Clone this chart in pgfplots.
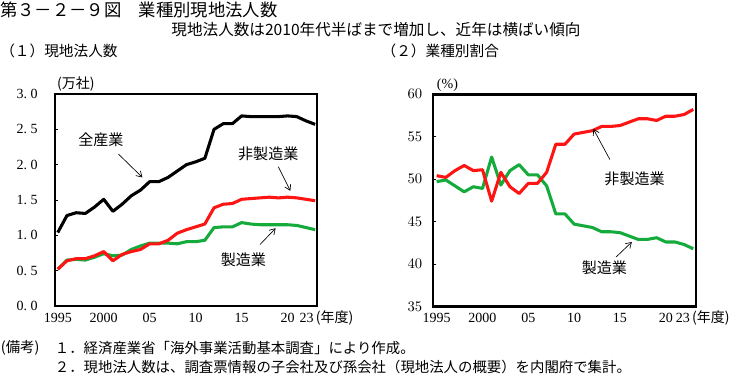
\documentclass[border=0pt]{standalone}
\usepackage{fontspec}
\setmainfont{Liberation Serif}
\newfontfamily\jp{Noto Sans CJK JP}
\usepackage{pgfplots}
\pgfplotsset{compat=1.18}
\usepackage{pgfplotstable}
\usetikzlibrary{arrows.meta}
\definecolor{myred}{RGB}{255,20,20}
\definecolor{mygreen}{RGB}{20,170,60}

\pgfplotstableread{
year total non mfg
1995 1.04 0.52 0.52
1996 1.28 0.64 0.65
1997 1.32 0.67 0.66
1998 1.31 0.67 0.65
1999 1.40 0.71 0.69
2000 1.51 0.77 0.74
2001 1.34 0.64 0.71
2002 1.44 0.73 0.72
2003 1.56 0.77 0.80
2004 1.64 0.80 0.85
2005 1.76 0.88 0.89
2006 1.76 0.88 0.89
2007 1.82 0.93 0.89
2008 1.91 1.03 0.88
2009 2.00 1.08 0.91
2010 2.04 1.12 0.91
2011 2.09 1.16 0.93
2012 2.50 1.39 1.11
2013 2.58 1.44 1.12
2014 2.58 1.45 1.12
2015 2.69 1.51 1.18
2016 2.68 1.52 1.16
2017 2.68 1.53 1.15
2018 2.68 1.54 1.15
2019 2.68 1.53 1.15
2020 2.69 1.54 1.15
2021 2.68 1.53 1.14
2022 2.62 1.51 1.11
2023 2.57 1.49 1.08
}\counts

\pgfplotstableread{
year non mfg
1995 50.4 49.7
1996 50.2 49.9
1997 51.0 49.2
1998 51.6 48.5
1999 51.0 49.1
2000 51.1 48.9
2001 47.4 52.6
2002 50.8 49.3
2003 49.1 51.0
2004 48.3 51.7
2005 49.5 50.5
2006 49.5 50.5
2007 50.8 49.2
2008 54.1 45.9
2009 54.1 45.9
2010 55.3 44.7
2011 55.5 44.5
2012 55.7 44.3
2013 56.2 43.8
2014 56.2 43.8
2015 56.3 43.7
2016 56.7 43.3
2017 57.1 42.9
2018 57.1 42.9
2019 56.9 43.1
2020 57.4 42.6
2021 57.4 42.6
2022 57.6 42.3
2023 58.2 41.8
}\shares

\pgfplotsset{
  panel/.style={
    anchor=south west, scale only axis,
    axis line style={line width=2.2pt, line cap=rect},
    xtick={1995,2000,2005,2010,2015,2020},
    xticklabels={1995,2000,05,10,15,20},
    xtick style={draw=none},
    ytick style={line width=0.6pt, black},
    major tick length=2.5pt,
    tick pos=left, tick align=inside,
    ticklabel style={font=\fontsize{10.5pt}{12pt}\selectfont},
    xticklabel style={anchor=base, yshift=-12pt},
    extra x tick style={xtick style={draw=none}, xticklabel style={anchor=base west, xshift=-3.5pt}},
    clip=false,
  },
}
\tikzset{
  ann/.style={font=\jp\fontsize{11.3pt}{13pt}\selectfont, inner sep=0pt},
  arr/.style={-{Straight Barb[length=4pt,width=5pt]}, line width=0.5pt},
}

\begin{document}
\begin{tikzpicture}
\useasboundingbox[fill=white] (0,0) rectangle (561pt,-283.5pt);

% titles
\node[anchor=west, inner sep=0pt, font=\jp\fontsize{13pt}{15pt}\selectfont] at (0pt,-7.5pt) {第３－２－９図　業種別現地法人数};
\node[inner sep=0pt, font=\jp\fontsize{11.7pt}{13pt}\selectfont] at (282pt,-22pt) {現地法人数は2010年代半ばまで増加し、近年は横ばい傾向};
\node[anchor=west, inner sep=0pt, font=\jp\fontsize{11pt}{13pt}\selectfont] at (0pt,-38pt) {（１）現地法人数};
\node[anchor=west, inner sep=0pt, font=\jp\fontsize{11pt}{13pt}\selectfont] at (286pt,-38pt) {（２）業種別割合};

% left panel
\begin{axis}[panel,
  at={(41.25pt,-229.5pt)},
  width=196.5pt, height=159pt,
  xmin=1994.7, xmax=2023.2, ymin=0, ymax=3,
  ytick={0,0.5,1,1.5,2,2.5,3},
  yticklabels={0.\ 0,0.\ 5,1.\ 0,1.\ 5,2.\ 0,2.\ 5,3.\ 0},
  yticklabel style={xshift=-9.5pt},
  extra x ticks={2021.3},
  extra x tick labels={23\,{\jp (年度)}},
]
\addplot[mygreen, line width=2.3pt, line join=round] table[x=year,y=mfg] {\counts};
\addplot[myred, line width=2.3pt, line join=round] table[x=year,y=non] {\counts};
\addplot[black, line width=2.3pt, line join=round] table[x=year,y=total] {\counts};
\node[ann] at (axis cs:1999.7,2.35) {全産業};
\draw[arr] (axis cs:2001.6,2.15) -- (axis cs:2004.2,1.82);
\node[ann] at (axis cs:2017.9,2.16) {非製造業};
\draw[arr] (axis cs:2019.0,1.97) -- (axis cs:2020.3,1.63);
\node[ann] at (axis cs:2015.2,0.66) {製造業};
\draw[arr] (axis cs:2017.0,0.87) -- (axis cs:2018.7,1.10);
\node[anchor=south west, inner sep=0pt, font=\jp\fontsize{10.5pt}{12pt}\selectfont] at (axis cs:1994.9,3.03) {(万社)};
\end{axis}

% right panel
\begin{axis}[panel,
  at={(324.75pt,-229.9pt)},
  width=197.25pt, height=159.3pt,
  xmin=1994.6, xmax=2023.3, ymin=35, ymax=60,
  ytick={35,40,45,50,55,60},
  yticklabel style={xshift=-4.5pt},
  extra x ticks={2021.1},
  extra x tick labels={23\,{\jp (年度)}},
]
\addplot[mygreen, line width=2.3pt, line join=round] table[x=year,y=mfg] {\shares};
\addplot[myred, line width=2.3pt, line join=round] table[x=year,y=non] {\shares};
\node[ann] at (axis cs:2016.6,50.0) {非製造業};
\draw[arr] (axis cs:2013.9,52.3) -- (axis cs:2012.1,55.9);
\node[ann] at (axis cs:2013.3,39.6) {製造業};
\draw[arr] (axis cs:2014.6,40.85) -- (axis cs:2016.3,42.6);
\node[anchor=south west, inner sep=0pt, font=\fontsize{10.5pt}{12pt}\selectfont] at (axis cs:1995.0,60.3) {(\%)};
\end{axis}

% notes
\node[anchor=west, inner sep=0pt, font=\jp\fontsize{10.8pt}{13pt}\selectfont] at (0.5pt,-261pt) {(備考)};
\node[anchor=west, inner sep=0pt, font=\jp\fontsize{10.8pt}{13pt}\selectfont] at (41pt,-261pt) {１．経済産業省「海外事業活動基本調査」により作成。};
\node[anchor=west, inner sep=0pt, font=\jp\fontsize{10.8pt}{13pt}\selectfont] at (41pt,-275.25pt) {２．現地法人数は、調査票情報の子会社及び孫会社（現地法人の概要）を内閣府で集計。};
\end{tikzpicture}
\end{document}
